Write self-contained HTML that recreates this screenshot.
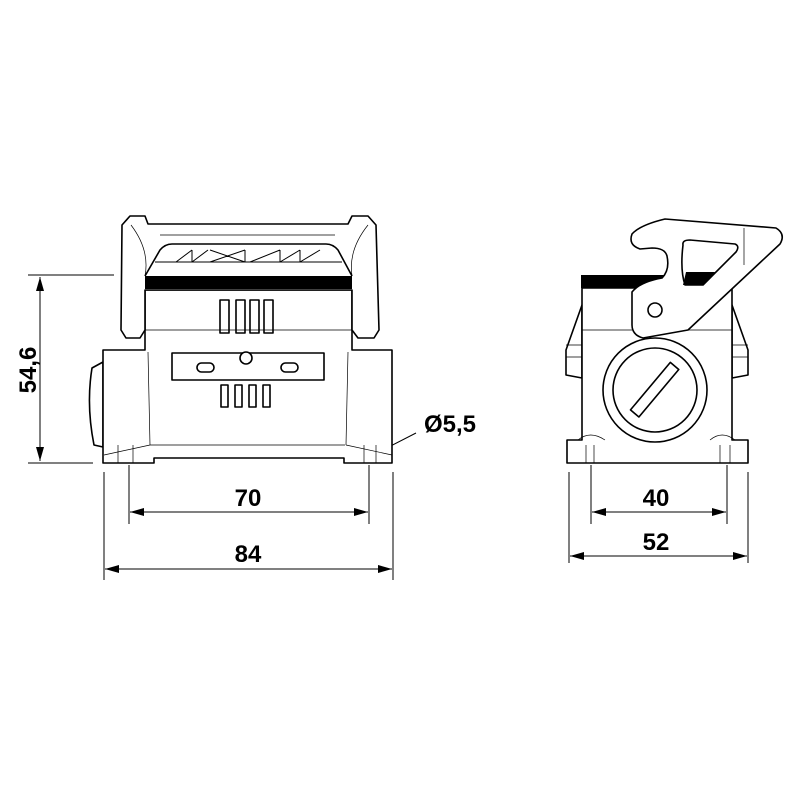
<!DOCTYPE html>
<html><head><meta charset="utf-8"><style>body{margin:0;background:#fff}svg{display:block}</style></head><body>
<svg width="800" height="800" viewBox="0 0 800 800" xmlns="http://www.w3.org/2000/svg">
<defs>
<marker id="a" viewBox="0 0 14 8" refX="14" refY="4" markerWidth="14" markerHeight="8" markerUnits="userSpaceOnUse" orient="auto-start-reverse"><path d="M0,0L14,4L0,8z" fill="#000"/></marker>
</defs>
<g fill="none" stroke="#000" stroke-width="1">
<line x1="28" y1="275" x2="114" y2="275"/><line x1="28" y1="463" x2="93" y2="463"/>
<line x1="40" y1="277" x2="40" y2="461" marker-start="url(#a)" marker-end="url(#a)"/>
<line x1="104" y1="472" x2="104" y2="580"/><line x1="393" y1="472" x2="393" y2="580"/>
<line x1="129" y1="465" x2="129" y2="524"/><line x1="369" y1="465" x2="369" y2="524"/>
<line x1="130" y1="512" x2="368" y2="512" marker-start="url(#a)" marker-end="url(#a)"/>
<line x1="105" y1="569" x2="392" y2="569" marker-start="url(#a)" marker-end="url(#a)"/>
<line x1="569" y1="472" x2="569" y2="563"/><line x1="748" y1="472" x2="748" y2="563"/>
<line x1="591" y1="465" x2="591" y2="524"/><line x1="727" y1="465" x2="727" y2="524"/>
<line x1="592" y1="512" x2="726" y2="512" marker-start="url(#a)" marker-end="url(#a)"/>
<line x1="570" y1="556" x2="747" y2="556" marker-start="url(#a)" marker-end="url(#a)"/>
<line x1="416" y1="433" x2="377" y2="453"/>
</g>
<g font-family="Liberation Sans, sans-serif" font-weight="bold" font-size="24" text-anchor="middle">
<text x="248" y="506">70</text><text x="248" y="562">84</text>
<text x="656" y="506">40</text><text x="656" y="550">52</text>
<text x="450" y="432">Ø5,5</text>
<text transform="translate(36,370) rotate(-90)">54,6</text>
</g>
<!-- LEFT VIEW -->
<g fill="none" stroke="#000" stroke-width="1.6" stroke-linejoin="round">
<path d="M92,368 Q86,405 94,445 L103,447 L103,362 Z" fill="#fff"/>
<path d="M103,350 L145,350 L145,290 L352,290 L352,350 L392,350 L392,463 L344,463 L344,458 L154,458 L154,463 L103,463 Z" fill="#fff"/>
<path d="M122,225 L130,216 L145,216 L148,224 L348,224 L352,216 L368,216 L376,225 L379,330 L374,338 L358,338 L352,330 L352,290 L145,290 L145,330 L140,338 L126,338 L121,330 Z" fill="#fff"/>
<rect x="145" y="276" width="207" height="13" fill="#000" stroke="none"/>
<rect x="172" y="353" width="152" height="27" fill="#fff"/>
<rect x="220" y="300" width="9" height="33" fill="#fff"/><rect x="236" y="300" width="9" height="33" fill="#fff"/>
<rect x="250" y="300" width="9" height="33" fill="#fff"/><rect x="264" y="300" width="9" height="33" fill="#fff"/>
<rect x="221" y="385" width="7" height="22"/><rect x="235" y="385" width="7" height="22"/>
<rect x="249" y="385" width="7" height="22"/><rect x="263" y="385" width="7" height="22"/>
<circle cx="246" cy="358" r="6" fill="#fff"/>
<rect x="197" y="363" width="17" height="9" rx="4.5"/><rect x="281" y="363" width="17" height="9" rx="4.5"/>
<path d="M145,276 L160,250 Q165,244 172,244 L326,244 Q333,244 338,250 L352,276"/>
</g>
<g fill="none" stroke="#000" stroke-width="1">
<path d="M155,262 L342,262"/>
<path d="M176,262 L192,250 M192,262 L208,250 M210,250 L245,262 M210,262 L245,250 M250,262 L280,250 M280,262 L300,250 M300,262 L320,250 M192,250 L192,262 M245,250 L245,262 M280,250 L280,262 M300,250 L300,262"/>
</g>
<g fill="none" stroke="#000" stroke-width="0.7">
<path d="M160,235 L335,235"/>
<path d="M145,330 L352,330 M150,445 L345,445 M148,352 L150,445 M348,352 L346,445 M104,455 L150,445 M392,455 L346,445"/>
<path d="M131,225 Q150,250 145,276 M368,225 Q348,250 352,276"/>
<path d="M118,445 L118,463 M133,445 L133,463 M364,445 L364,463 M376,445 L376,463"/>
</g>
<!-- RIGHT VIEW -->
<g fill="none" stroke="#000" stroke-width="1.6" stroke-linejoin="round">
<path d="M582,305 L566,350 L566,375 L582,378 Z" fill="#fff"/>
<path d="M732,305 L748,350 L748,375 L732,378 Z" fill="#fff"/>
<path d="M582,288 L732,288 L732,440 L748,440 L748,463 L567,463 L567,440 L582,440 Z" fill="#fff"/>
<rect x="581" y="275" width="100" height="13" fill="#000" stroke="none"/>
<circle cx="655" cy="390" r="52" fill="#fff"/>
<circle cx="655" cy="390" r="42"/>
<rect x="624" y="384" width="62" height="11" transform="rotate(-50 655 390)"/>
<path d="M632,234 Q640,225 665,219 L776,228 Q786,234 780,244 L688,330 L643,338 Q632,335 632,325 L632,292 Q640,282 662,278 Q670,270 667,256 Q665,248 652,248 L640,249 Q628,245 632,234 Z" fill="#fff"/>
<path d="M683,245 Q682,240 690,240 L735,244 Q740,246 736,252 L703,285 L685,285 Q680,270 683,245 Z" fill="#fff"/>
<path d="M686,272 L715,272 L703,285 L683,285 Z" fill="#000" stroke="none"/>
<circle cx="655" cy="310" r="7" fill="#fff"/>
</g>
<g fill="none" stroke="#000" stroke-width="0.7">
<path d="M582,330 L632,330 M688,330 L732,330 M566,345 L582,345 M566,357 L582,357 M732,345 L748,345 M732,357 L748,357 M744,228 L744,265"/>
<path d="M578,440 Q590,430 605,440 M710,440 Q722,430 735,440 M586,445 L586,463 M594,445 L594,463 M720,445 L720,463 M730,445 L730,463"/>
</g>
</svg>
</body></html>
